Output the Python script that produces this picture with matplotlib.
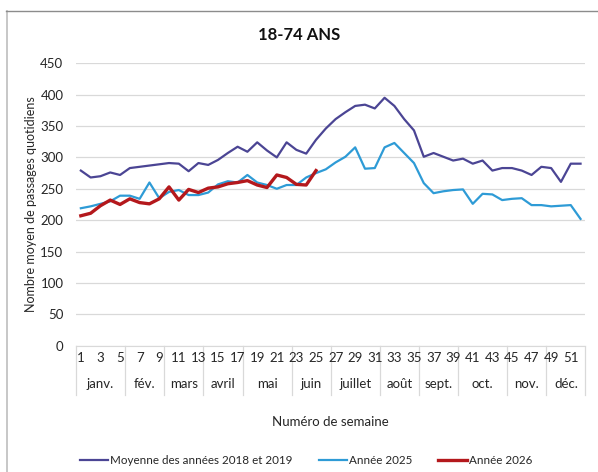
import matplotlib.pyplot as plt
import matplotlib.transforms as mtransforms
from matplotlib.lines import Line2D

plt.rcParams['font.family'] = ['Lato', 'DejaVu Sans']

weeks = list(range(1, 53))

moy_2018_2019 = [279, 268, 270, 276, 272, 283, 285, 287, 289, 291,
                 290, 278, 291, 288, 296, 307, 317, 309, 324, 311,
                 300, 324, 312, 306, 328, 346, 361, 372, 382, 384,
                 378, 395, 382, 361, 343, 301, 307, 301, 295, 298,
                 290, 295, 279, 283, 283, 279, 272, 285, 283, 261,
                 290, 290]

annee_2025 = [219, 222, 226, 230, 239, 239, 234, 260, 235, 245,
              248, 240, 240, 244, 257, 262, 260, 272, 260, 256,
              250, 256, 256, 268, 275, 281, 292, 301, 316, 282,
              283, 316, 323, 307, 291, 259, 243, 246, 248, 249,
              226, 242, 241, 232, 234, 235, 224, 224, 222, 223,
              224, 202]

annee_2026 = [207, 211, 223, 232, 225, 234, 228, 226, 234, 253,
              232, 249, 244, 251, 253, 258, 260, 263, 256, 252,
              272, 268, 257, 256, 279]

# mois : (libellé, première semaine, dernière semaine)
mois = [("janv.", 1, 5), ("fév.", 6, 9), ("mars", 10, 13), ("avril", 14, 17),
        ("mai", 18, 22), ("juin", 23, 26), ("juillet", 27, 31), ("août", 32, 35),
        ("sept.", 36, 39), ("oct.", 40, 44), ("nov.", 45, 48), ("déc.", 49, 52)]

fs = 9.5
txt = '#262626'

fig = plt.figure(figsize=(5.98, 4.72), dpi=100)
ax = fig.add_axes([0.127, 0.2676, 0.852, 0.5984])

ax.plot(weeks, moy_2018_2019, color='#4B4594', lw=1.6, label='Moyenne des années 2018 et 2019')
ax.plot(weeks, annee_2025, color='#2E9BD6', lw=1.6, label='Année 2025')
ax.plot(weeks[:len(annee_2026)], annee_2026, color='#B4181C', lw=2.4, label='Année 2026')

ax.set_xlim(0.5, 52.5)
ax.set_ylim(0, 450)
ax.set_yticks(range(0, 451, 50))
ax.yaxis.grid(True, color='#D9D9D9', lw=0.9)
ax.set_axisbelow(True)
for s in ['top', 'right', 'left']:
    ax.spines[s].set_visible(False)
ax.spines['bottom'].set_color('#D9D9D9')
ax.tick_params(axis='y', length=0, labelsize=fs, labelcolor=txt, pad=9)
ax.set_xticks([])

# axe des catégories à deux niveaux
trans = mtransforms.blended_transform_factory(ax.transData, ax.transAxes)
for w in weeks[::2]:
    ax.text(w, -0.045, str(w), transform=trans, ha='center', va='center',
            fontsize=fs, color=txt)
bounds = [0.5] + [m[2] + 0.5 for m in mois]
for b in bounds:
    ax.add_line(Line2D([b, b], [0, -0.175], transform=trans, color='#D9D9D9',
                       lw=0.9, clip_on=False))
for lab, a, b in mois:
    ax.text((a + b) / 2, -0.135, lab, transform=trans, ha='center', va='center',
            fontsize=fs, color=txt)

ax.set_ylabel('Nombre moyen de passages quotidiens', fontsize=9, color=txt)
ax.yaxis.set_label_coords(-0.076, 0.5)
fig.text(0.553, 0.105, 'Numéro de semaine', ha='center', va='center',
         fontsize=fs, color=txt)
fig.text(0.5, 0.926, '18-74 ANS', ha='center', va='center', fontsize=12,
         fontweight='bold', color='#111111')

fig.legend(loc='center', bbox_to_anchor=(0.512, 0.024), ncol=3, frameon=False,
           fontsize=8.4, handlelength=2.45, handletextpad=0.2, columnspacing=2.2,
           labelcolor=txt)

# bordure du graphique
fig.add_artist(Line2D([6.5 / 598, 6.5 / 598], [0, 1 - 11 / 472], transform=fig.transFigure,
                      color='#BDBDBD', lw=1.2))
fig.add_artist(Line2D([6 / 598, 1], [1 - 11 / 472, 1 - 11 / 472], transform=fig.transFigure,
                      color='#8C8C8C', lw=1.0))

fig.savefig('out.png', dpi=100)
